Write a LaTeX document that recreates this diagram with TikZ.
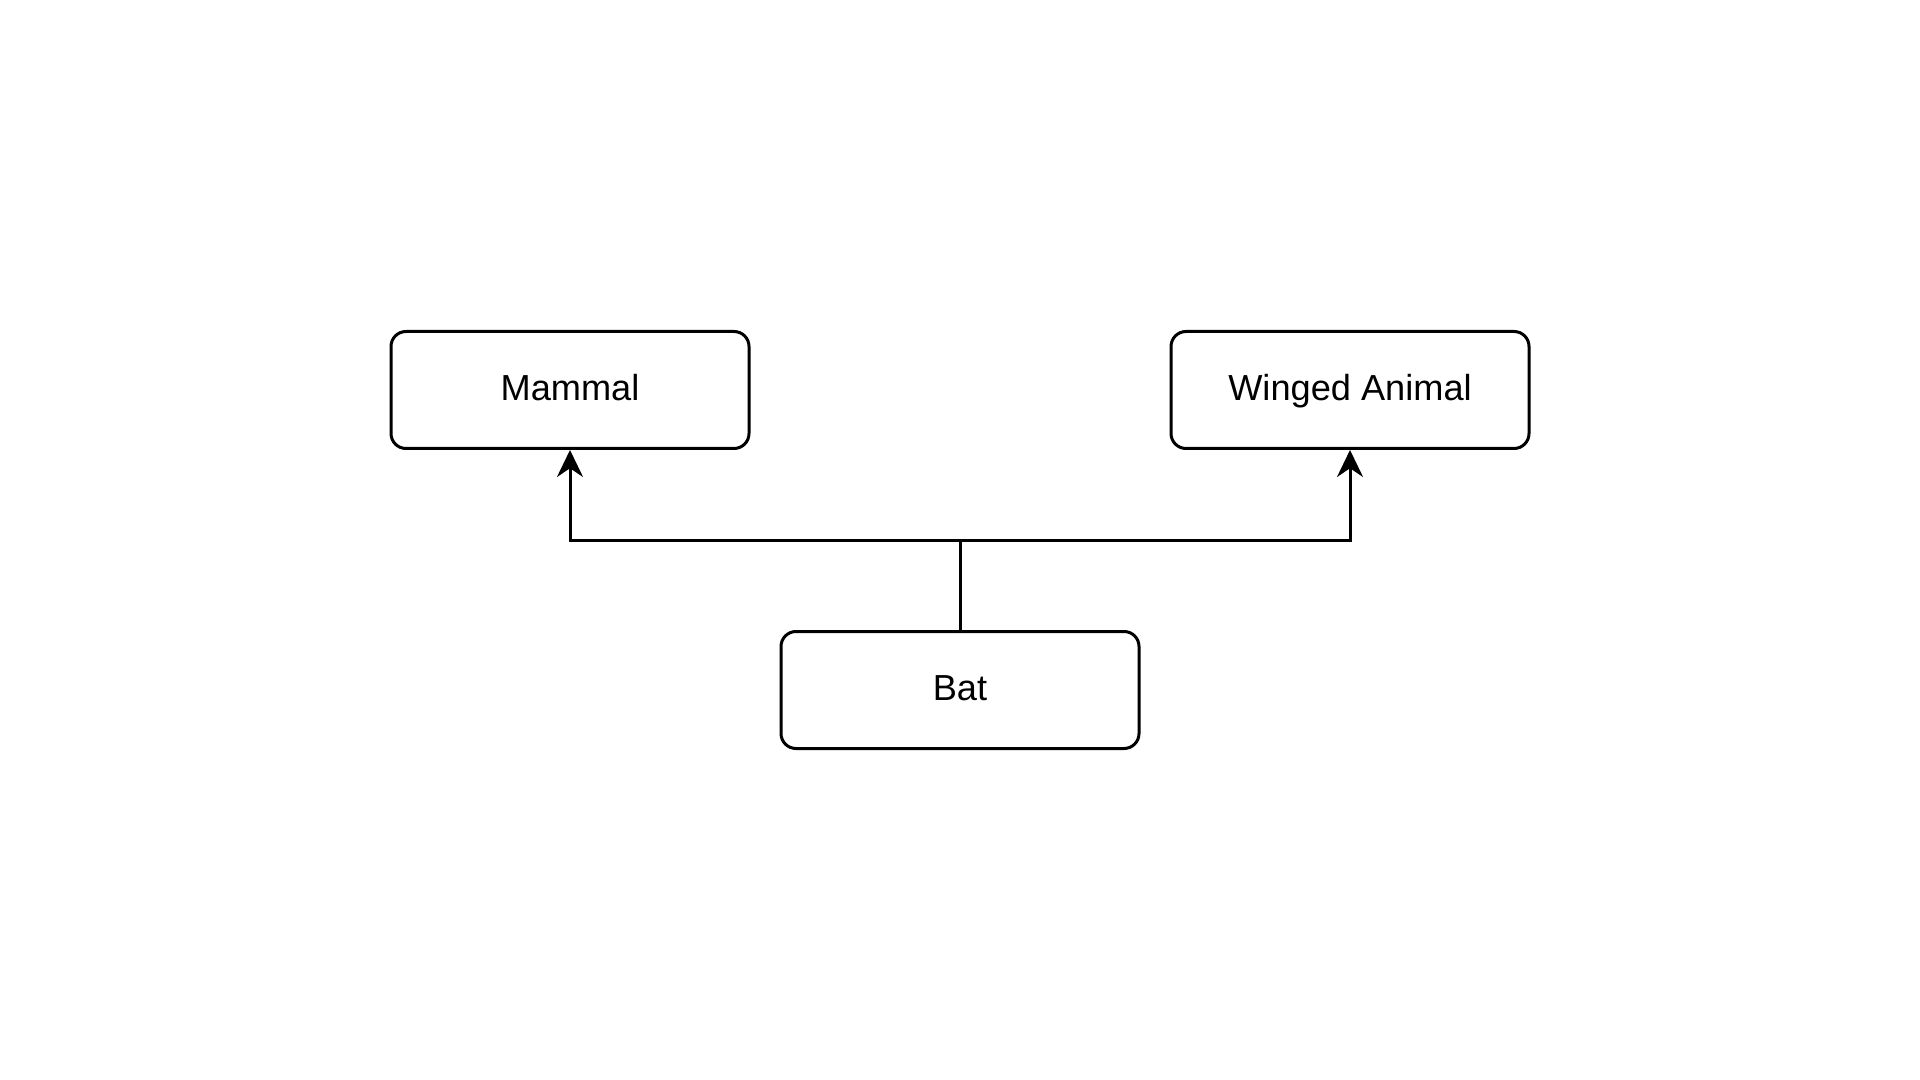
\documentclass[tikz,border=0pt]{standalone}
\usepackage{fontspec}
\setmainfont{Liberation Sans}
\usetikzlibrary{arrows.meta}

\begin{document}
\begin{tikzpicture}[
  >={Stealth[length=2.7mm, width=2.6mm]},
  line width=0.3mm,
  % all three classes share the same rounded box
  cls/.style={rectangle, draw, rounded corners=1.5mm, minimum width=3.58cm, minimum height=1.17cm,
    inner sep=0pt, text height=0.6em, text depth=0pt, font=\fontsize{10.3pt}{12pt}\selectfont}
]

% Page frame
\useasboundingbox (0,0) rectangle (19.2,-10.8);

% Parent classes
\node[cls] (mammal) at (5.70,-3.90) {Mammal};
\node[cls] (winged) at (13.50,-3.90) {Winged Animal};

% Child class
\node[cls] (bat) at (9.60,-6.90) {Bat};

% Inheritance arrows through a shared split point
\coordinate (split) at (9.60,-5.40);
\draw (bat.north) -- (split);
\draw[->] (split) -| (mammal.south);
\draw[->] (split) -| (winged.south);

\end{tikzpicture}
\end{document}
